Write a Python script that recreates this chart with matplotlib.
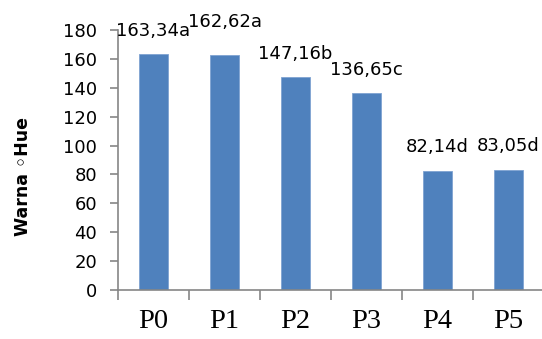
import numpy as np
import matplotlib.pyplot as plt

categories = ["P0", "P1", "P2", "P3", "P4", "P5"]
hue = [163.34, 162.62, 147.16, 136.65, 82.14, 83.05]
letters = ["a", "a", "b", "c", "d", "d"]
# extra lift (px) for labels that sit higher above their bar
label_lift = [23, 33, 23, 23, 24, 24]

fig = plt.figure(figsize=(5.42, 3.39), dpi=100)
ax = fig.add_axes([118 / 542, 49 / 339, 426 / 542, 260 / 339])

x = np.arange(len(categories))
ax.bar(x, hue, width=0.4, color="#4F81BD", edgecolor="#7FA3D2", linewidth=0.6)

for xi, v, let, lift in zip(x, hue, letters, label_lift):
    label = f"{v:.2f}".replace(".", ",") + let
    ax.annotate(label, (xi, v), xytext=(0, lift * 0.72), textcoords="offset points",
                ha="center", va="center", fontsize=13, color="black")

ax.set_xlim(-0.5, len(categories) - 0.5)
ax.set_ylim(0, 180)
ax.set_yticks(np.arange(0, 181, 20))
ax.set_xticks(x)
ax.set_xticklabels(categories, family="Liberation Serif", fontsize=20.5)
ax.set_xticks(np.arange(-0.5, len(categories)), minor=True)

for s in ["top", "right"]:
    ax.spines[s].set_visible(False)
for s in ["left", "bottom"]:
    ax.spines[s].set_color("#868686")
    ax.spines[s].set_linewidth(1.2)

ax.tick_params(axis="y", direction="out", length=6, width=1.2, color="#868686",
               labelsize=13, pad=9)
ax.tick_params(axis="x", which="major", length=0, pad=14)
ax.tick_params(axis="x", which="minor", direction="out", length=7, width=1.2,
               color="#868686")

fig.text(23 / 542, 1 - 177 / 339, "Warna \u25e6Hue", rotation=90, ha="center",
         va="center", fontsize=12.5, fontweight="bold")

fig.savefig("out.png", dpi=100)
